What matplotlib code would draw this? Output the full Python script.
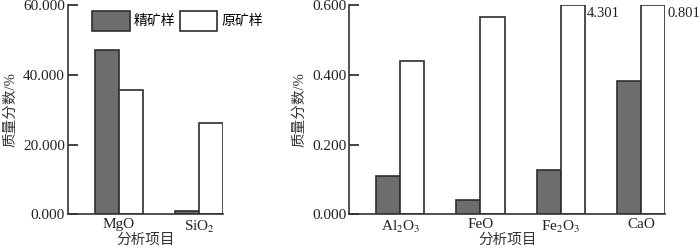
import matplotlib
matplotlib.use('Agg')
import matplotlib.pyplot as plt
import numpy as np

plt.rcParams['font.family'] = ['Liberation Serif', 'Noto Sans CJK SC']
plt.rcParams['mathtext.fontset'] = 'stix'

# major components (left panel)
major_items = ['MgO', r'SiO$_2$']
major_conc = [47.0, 1.0]      # 精矿样
major_raw = [35.6, 26.1]      # 原矿样

# minor components (right panel)
minor_items = [r'Al$_2$O$_3$', 'FeO', r'Fe$_2$O$_3$', 'CaO']
minor_conc = [0.111, 0.041, 0.127, 0.382]
minor_raw = [0.440, 0.565, 4.301, 0.801]

series_names = ['精矿样', '原矿样']
DARK = '#6d6d6d'
EDGE = '#2e2e2e'
W = 0.3


def draw_panel(ax, items, conc, raw, ymax, yticks):
    x = np.arange(len(items))
    # bars taller than the axis are drawn up to the frame, value written beside
    raw_shown = np.minimum(raw, ymax)
    ax.bar(x, conc, width=W, align='edge', color=DARK, edgecolor=EDGE,
           linewidth=1.2, label=series_names[0])
    ax.bar(x + W, raw_shown, width=W, align='edge', color='white',
           edgecolor=EDGE, linewidth=1.2, label=series_names[1])
    for xi, v in zip(x, raw):
        if v > ymax:
            ax.text(xi + 2 * W + 0.03, ymax * 0.99, f'{v:.3f}', ha='left',
                    va='top', fontsize=10.5, color='#222222', clip_on=False)
    ax.set_ylim(0, ymax)
    ax.set_xlim(-0.335, len(items) - 1 + 2 * W)
    ax.set_yticks(yticks)
    ax.set_yticklabels([f'{t:.3f}' for t in yticks], fontsize=11)
    ax.set_xticks(x + W)
    ax.set_xticklabels(items, fontsize=11)
    ax.tick_params(axis='y', direction='in', length=7, width=1.2, pad=2,
                   colors='#222222')
    ax.tick_params(axis='x', length=0, pad=3, colors='#222222')
    for s in ('top', 'right'):
        ax.spines[s].set_visible(False)
    for s in ('left', 'bottom'):
        ax.spines[s].set_linewidth(1.2)
        ax.spines[s].set_color('#333333')
    ax.set_xlabel('分析项目', fontsize=10.5, labelpad=-1, color='#333333')
    ax.set_ylabel('质量分数/%', fontsize=10.5, labelpad=4, color='#333333')


fig = plt.figure(figsize=(7.0, 2.48), dpi=100)
ax1 = fig.add_axes([0.097, 0.136, 0.222, 0.844])
ax2 = fig.add_axes([0.499, 0.136, 0.451, 0.844])

draw_panel(ax1, major_items, major_conc, major_raw, 60, [0, 20, 40, 60])
draw_panel(ax2, minor_items, minor_conc, minor_raw, 0.6, [0, 0.2, 0.4, 0.6])

ax1.legend(loc='upper left', bbox_to_anchor=(0.12, 1.0), ncol=2, frameon=False,
           fontsize=10, handlelength=2.7, handleheight=1.9, handletextpad=0.3,
           columnspacing=0.3, borderaxespad=0)

fig.savefig('out.png', dpi=100)
